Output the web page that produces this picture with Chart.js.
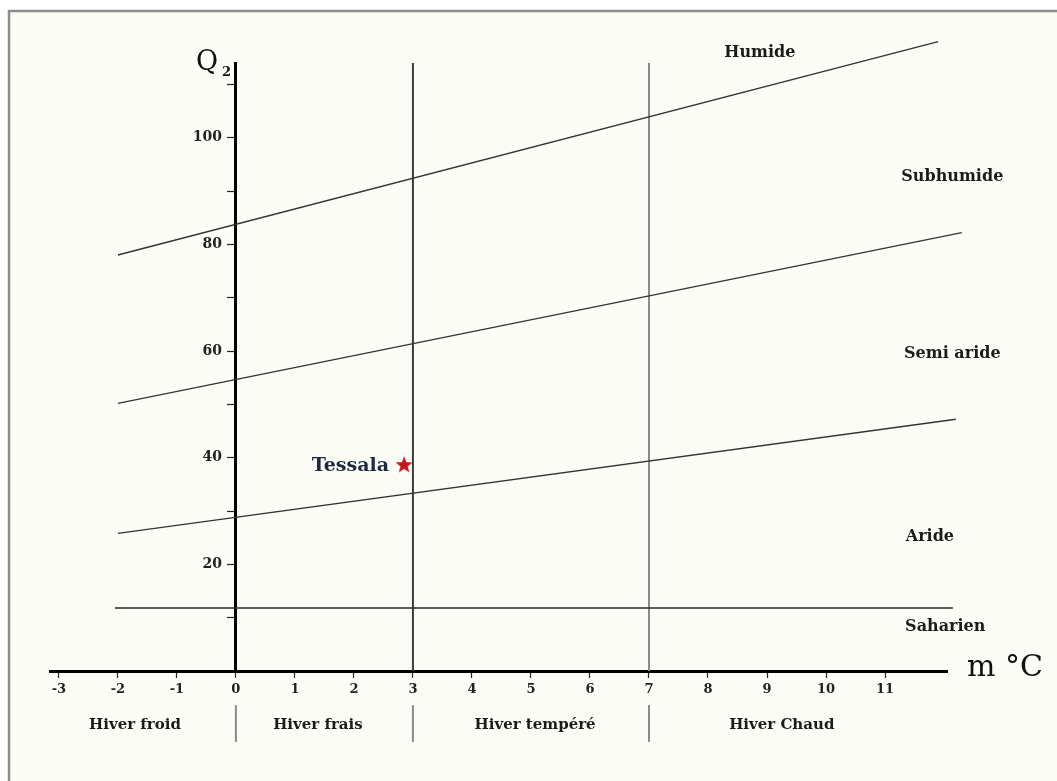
<!DOCTYPE html>
<html>
<head>
<meta charset="utf-8">
<script src="https://cdn.jsdelivr.net/npm/chart.js@4.4.1/dist/chart.umd.min.js"></script>
<style>
  html, body { margin: 0; padding: 0; background: #fff; }
</style>
</head>
<body>
<canvas id="climagramme" width="1057" height="781"></canvas>
<script>
// Climagramme d'Emberger - limites des étages bioclimatiques
const humideLimit   = [{x: -2, y: 78},   {x: 11.9, y: 118}];
const subhumLimit   = [{x: -2, y: 50.2}, {x: 12.3, y: 82.2}];
const semiLimit     = [{x: -2, y: 25.8}, {x: 12.2, y: 47.2}];
const saharienLimit = [{x: -2.05, y: 11.8}, {x: 12.15, y: 11.8}];
const hiverBounds   = [0, 3, 7];
const q2Top = 114;

const station = {name: "Tessala", m: 2.85, q2: 38.6};

const xTickValues = [-3, -2, -1, 0, 1, 2, 3, 4, 5, 6, 7, 8, 9, 10, 11];
const yTickLabels = [20, 40, 60, 80, 100];

const zoneNames = ["Humide", "Subhumide", "Semi aride", "Aride", "Saharien"];
const zonePos   = [[8.88, 115.9], [12.14, 92.7], [12.14, 59.4], [11.76, 25.1], [12.02, 8.2]];

const hiverNames = ["Hiver froid", "Hiver frais", "Hiver tempéré", "Hiver Chaud"];
const hiverPos   = [-1.71, 1.39, 5.07, 9.25];

Chart.defaults.font.family = "'DejaVu Serif', serif";
Chart.defaults.color = "#222";

// étoile rouge pour la station
function makeStar(r) {
  const c = document.createElement("canvas");
  c.width = c.height = r * 2 + 2;
  const g = c.getContext("2d");
  g.beginPath();
  for (let i = 0; i < 10; i++) {
    const rad = i % 2 == 0 ? r : r * 0.42;
    const a = -Math.PI / 2 + i * Math.PI / 5;
    g.lineTo(r + 1 + rad * Math.cos(a), r + 1 + rad * Math.sin(a));
  }
  g.closePath();
  g.fillStyle = "#c4161c";
  g.fill();
  return c;
}

function limitLine(data, color, width) {
  return {
    type: "line",
    data: data,
    borderColor: color,
    borderWidth: width,
    pointRadius: 0,
    fill: false,
    clip: false
  };
}

const datasets = [
  limitLine(humideLimit, "#333", 1.3),
  limitLine(subhumLimit, "#333", 1.3),
  limitLine(semiLimit, "#333", 1.3),
  limitLine(saharienLimit, "#2a2a2a", 1.6),
  limitLine([{x: hiverBounds[1], y: 0}, {x: hiverBounds[1], y: q2Top}], "#3c3c3c", 2),
  limitLine([{x: hiverBounds[2], y: 0}, {x: hiverBounds[2], y: q2Top}], "#8a8a8a", 2),
  {
    type: "scatter",
    data: [{x: station.m, y: station.q2}],
    pointStyle: makeStar(9),
    pointRadius: 9,
    clip: false
  }
];

const decorPlugin = {
  id: "decor",
  beforeDraw(chart) {
    const ctx = chart.ctx;
    ctx.save();
    ctx.fillStyle = "#ffffff";
    ctx.fillRect(0, 0, chart.width, chart.height);
    ctx.fillStyle = "#fcfcf7";
    ctx.fillRect(9, 11, chart.width - 9, chart.height - 11);
    ctx.strokeStyle = "#8c8c8c";
    ctx.lineWidth = 2.5;
    ctx.beginPath();
    ctx.moveTo(9, chart.height);
    ctx.lineTo(9, 11);
    ctx.lineTo(chart.width, 11);
    ctx.stroke();
    ctx.restore();
  },
  afterDraw(chart) {
    const ctx = chart.ctx;
    const x = chart.scales.x, y = chart.scales.y;
    ctx.save();
    ctx.textBaseline = "middle";

    // noms des étages
    ctx.fillStyle = "#1b1b1b";
    ctx.font = "bold 16px 'DejaVu Serif'";
    ctx.textAlign = "center";
    zoneNames.forEach((n, i) => {
      ctx.fillText(n, x.getPixelForValue(zonePos[i][0]), y.getPixelForValue(zonePos[i][1]));
    });

    // séparations des hivers sous l'axe
    ctx.strokeStyle = "#8a8a8a";
    ctx.lineWidth = 2;
    hiverBounds.forEach(v => {
      const px = x.getPixelForValue(v);
      ctx.beginPath();
      ctx.moveTo(px, y.getPixelForValue(-6.4));
      ctx.lineTo(px, y.getPixelForValue(-13.3));
      ctx.stroke();
    });
    ctx.fillStyle = "#1b1b1b";
    ctx.font = "bold 15px 'DejaVu Serif'";
    hiverNames.forEach((n, i) => {
      ctx.fillText(n, x.getPixelForValue(hiverPos[i]), y.getPixelForValue(-10.1));
    });

    // station
    ctx.fillStyle = "#1e2840";
    ctx.font = "bold 19px 'DejaVu Serif'";
    ctx.textAlign = "right";
    ctx.fillText(station.name, x.getPixelForValue(station.m) - 15, y.getPixelForValue(station.q2) + 1);

    // titres des axes
    ctx.fillStyle = "#111";
    ctx.textAlign = "left";
    ctx.textBaseline = "alphabetic";
    const x0 = x.getPixelForValue(0), yTop = y.getPixelForValue(q2Top);
    ctx.font = "27px 'DejaVu Serif'";
    ctx.fillText("Q", x0 - 40, yTop + 7);
    ctx.font = "bold 13px 'DejaVu Serif'";
    ctx.fillText("2", x0 - 14, yTop + 13);
    ctx.font = "30px 'DejaVu Serif'";
    ctx.textBaseline = "middle";
    ctx.fillText("m °C", x.right + 20, y.getPixelForValue(0) - 3);
    ctx.restore();
  }
};

new Chart(document.getElementById("climagramme"), {
  type: "scatter",
  data: {datasets: datasets},
  options: {
    responsive: false,
    animation: false,
    layout: {padding: {left: 50, right: 110, top: 63, bottom: 110}},
    plugins: {legend: {display: false}, tooltip: {enabled: false}},
    scales: {
      x: {
        type: "linear",
        position: {y: 0},
        min: -3.15,
        max: 12.05,
        afterBuildTicks: (scale) => {
          scale.ticks = xTickValues.map(v => ({value: v}));
        },
        grid: {drawOnChartArea: false, color: "#222", tickLength: 5, tickWidth: 1.2},
        border: {color: "#000", width: 3},
        ticks: {font: {size: 13, weight: "bold"}, padding: 6, color: "#222"}
      },
      y: {
        type: "linear",
        position: {x: 0},
        min: 0,
        max: q2Top,
        afterBuildTicks: (scale) => {
          const t = [];
          for (let v = 10; v <= 110; v += 10) t.push({value: v});
          scale.ticks = t;
        },
        grid: {drawOnChartArea: false, color: "#222", tickLength: 7, tickWidth: 1.2},
        border: {color: "#000", width: 3},
        ticks: {
          font: {size: 14, weight: "bold"},
          color: "#222",
          // axe placé sur m = 0 : le padding n'est pas appliqué, on décale avec des espaces
          callback: (v) => yTickLabels.includes(v) ? String(v) + "\u2002\u2002" : ""
        }
      }
    }
  },
  plugins: [decorPlugin]
});
</script>
</body>
</html>
